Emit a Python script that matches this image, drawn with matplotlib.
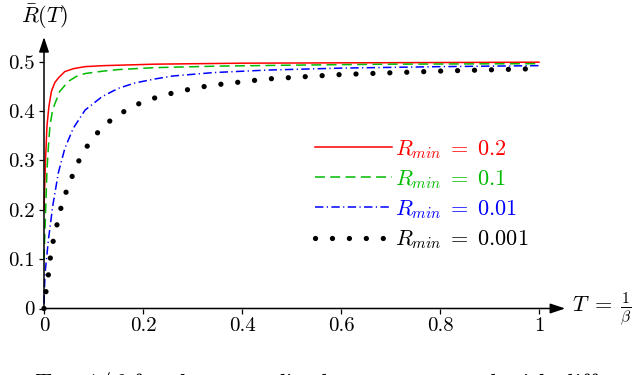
import matplotlib
matplotlib.use("Agg")
import matplotlib.pyplot as plt

plt.rcParams['font.family'] = 'serif'
plt.rcParams['font.serif'] = ['cmr10', 'DejaVu Serif']
plt.rcParams['mathtext.fontset'] = 'cm'
plt.rcParams['axes.unicode_minus'] = False

# ---- data ----
T_red = [0, 0.003, 0.006, 0.01, 0.015, 0.022, 0.03, 0.042, 0.06, 0.083, 0.12, 0.224, 0.4, 0.7, 1.0]
R_red = [0.20, 0.30, 0.37, 0.41, 0.44, 0.458, 0.468, 0.48, 0.486, 0.49, 0.492, 0.495, 0.497, 0.498, 0.499]

T_green = [0, 0.002, 0.004, 0.006, 0.009, 0.012, 0.017, 0.022, 0.032, 0.049, 0.065, 0.083, 0.12, 0.15, 0.224, 0.35, 0.5, 0.7, 1.0]
R_green = [0.10, 0.16, 0.22, 0.28, 0.33, 0.37, 0.40, 0.415, 0.44, 0.46, 0.47, 0.476, 0.481, 0.484, 0.488, 0.491, 0.493, 0.495, 0.496]

T_blue = [0, 0.002, 0.009, 0.018, 0.029, 0.042, 0.059, 0.083, 0.117, 0.15, 0.184, 0.224, 0.26, 0.343, 0.45, 0.6, 0.8, 1.0]
R_blue = [0.01, 0.07, 0.14, 0.21, 0.275, 0.324, 0.365, 0.402, 0.429, 0.446, 0.457, 0.465, 0.471, 0.478, 0.483, 0.487, 0.490, 0.492]

T_black = [0, 0.004, 0.009, 0.013, 0.019, 0.027, 0.035, 0.046, 0.059, 0.073, 0.091, 0.114, 0.14, 0.17, 0.2, 0.238, 0.27, 0.303, 0.337, 0.45, 0.6, 0.8, 1.0]
R_black = [0, 0.034, 0.069, 0.104, 0.139, 0.173, 0.207, 0.24, 0.273, 0.305, 0.335, 0.363, 0.386, 0.404, 0.419, 0.431, 0.439, 0.446, 0.452, 0.465, 0.474, 0.481, 0.486]

labels = [r'$R_{min}\;=\;0.2$', r'$R_{min}\;=\;0.1$', r'$R_{min}\;=\;0.01$', r'$R_{min}\;=\;0.001$']

x_ticks = [0, 0.2, 0.4, 0.6, 0.8, 1.0]
x_ticklabels = ['0', '0.2', '0.4', '0.6', '0.8', '1']
y_ticks = [0, 0.1, 0.2, 0.3, 0.4, 0.5]
y_ticklabels = ['0', '0.1', '0.2', '0.3', '0.4', '0.5']

W, H = 640, 375
fig = plt.figure(figsize=(6.4, 3.75), dpi=100)
x0, x1 = 44, 539
y0, y5 = 308.5, 61.7
ax = fig.add_axes([x0 / W, (H - y0) / H, (x1 - x0) / W, (y0 - y5) / H])
ax.set_xlim(0, 1)
ax.set_ylim(0, 0.5)

ax.plot(T_red, R_red, color='#ff0000', lw=1.1, label=labels[0], clip_on=False)
ax.plot(T_green, R_green, color='#00bb00', lw=1.1, dashes=(6.5, 3.5), label=labels[1], clip_on=False)
ax.plot(T_blue, R_blue, color='#0000ff', lw=1.1, dashes=(5.5, 2.2, 0.8, 2.2), label=labels[2], clip_on=False)
ax.plot(T_black, R_black, color='black', lw=3.8, dashes=(0.01, 3.2), dash_capstyle='round',
        solid_capstyle='round', label=labels[3], clip_on=False)

for s in ax.spines.values():
    s.set_visible(False)

# axes with arrows
ax.annotate('', xy=(1.053, 0), xytext=(0, 0), xycoords=('axes fraction', 'data'),
            textcoords=('axes fraction', 'data'),
            arrowprops=dict(arrowstyle='-|>,head_length=0.9,head_width=0.3', color='black', lw=1.1,
                            shrinkA=0, shrinkB=0), annotation_clip=False)
ax.annotate('', xy=(0, 1.10), xytext=(0, 0), xycoords=('data', 'axes fraction'),
            textcoords=('data', 'axes fraction'),
            arrowprops=dict(arrowstyle='-|>,head_length=0.9,head_width=0.3', color='black', lw=1.1,
                            shrinkA=0, shrinkB=0), annotation_clip=False)

ax.set_xticks(x_ticks)
ax.set_xticklabels(x_ticklabels)
ax.set_yticks(y_ticks)
ax.set_yticklabels(y_ticklabels)
ax.tick_params(direction='out', length=3.5, width=0.9, labelsize=15, pad=3)

fig.text(44 / W, 1 - 17 / H, r'$\bar{R}(T)$', ha='center', va='center', fontsize=16)
fig.text(572 / W, 1 - 309 / H, r'$T\;=\;\frac{1}{\beta}$', ha='left', va='center', fontsize=16)

leg = ax.legend(loc='upper left', bbox_to_anchor=(315 / W, 1 - 138 / H), bbox_transform=fig.transFigure,
                frameon=False, fontsize=16, handlelength=3.45, handletextpad=0.15,
                labelspacing=0.33, borderpad=0, borderaxespad=0, labelcolor='linecolor')

# caption below the figure, cut off at the bottom edge as in the reference
fig.text(33 / W, 1 - 370 / H, r'$T\;=\;1/\beta$ for the normalized average reward with different',
         ha='left', va='top', fontsize=17.5)

fig.savefig('out.png', dpi=100)
